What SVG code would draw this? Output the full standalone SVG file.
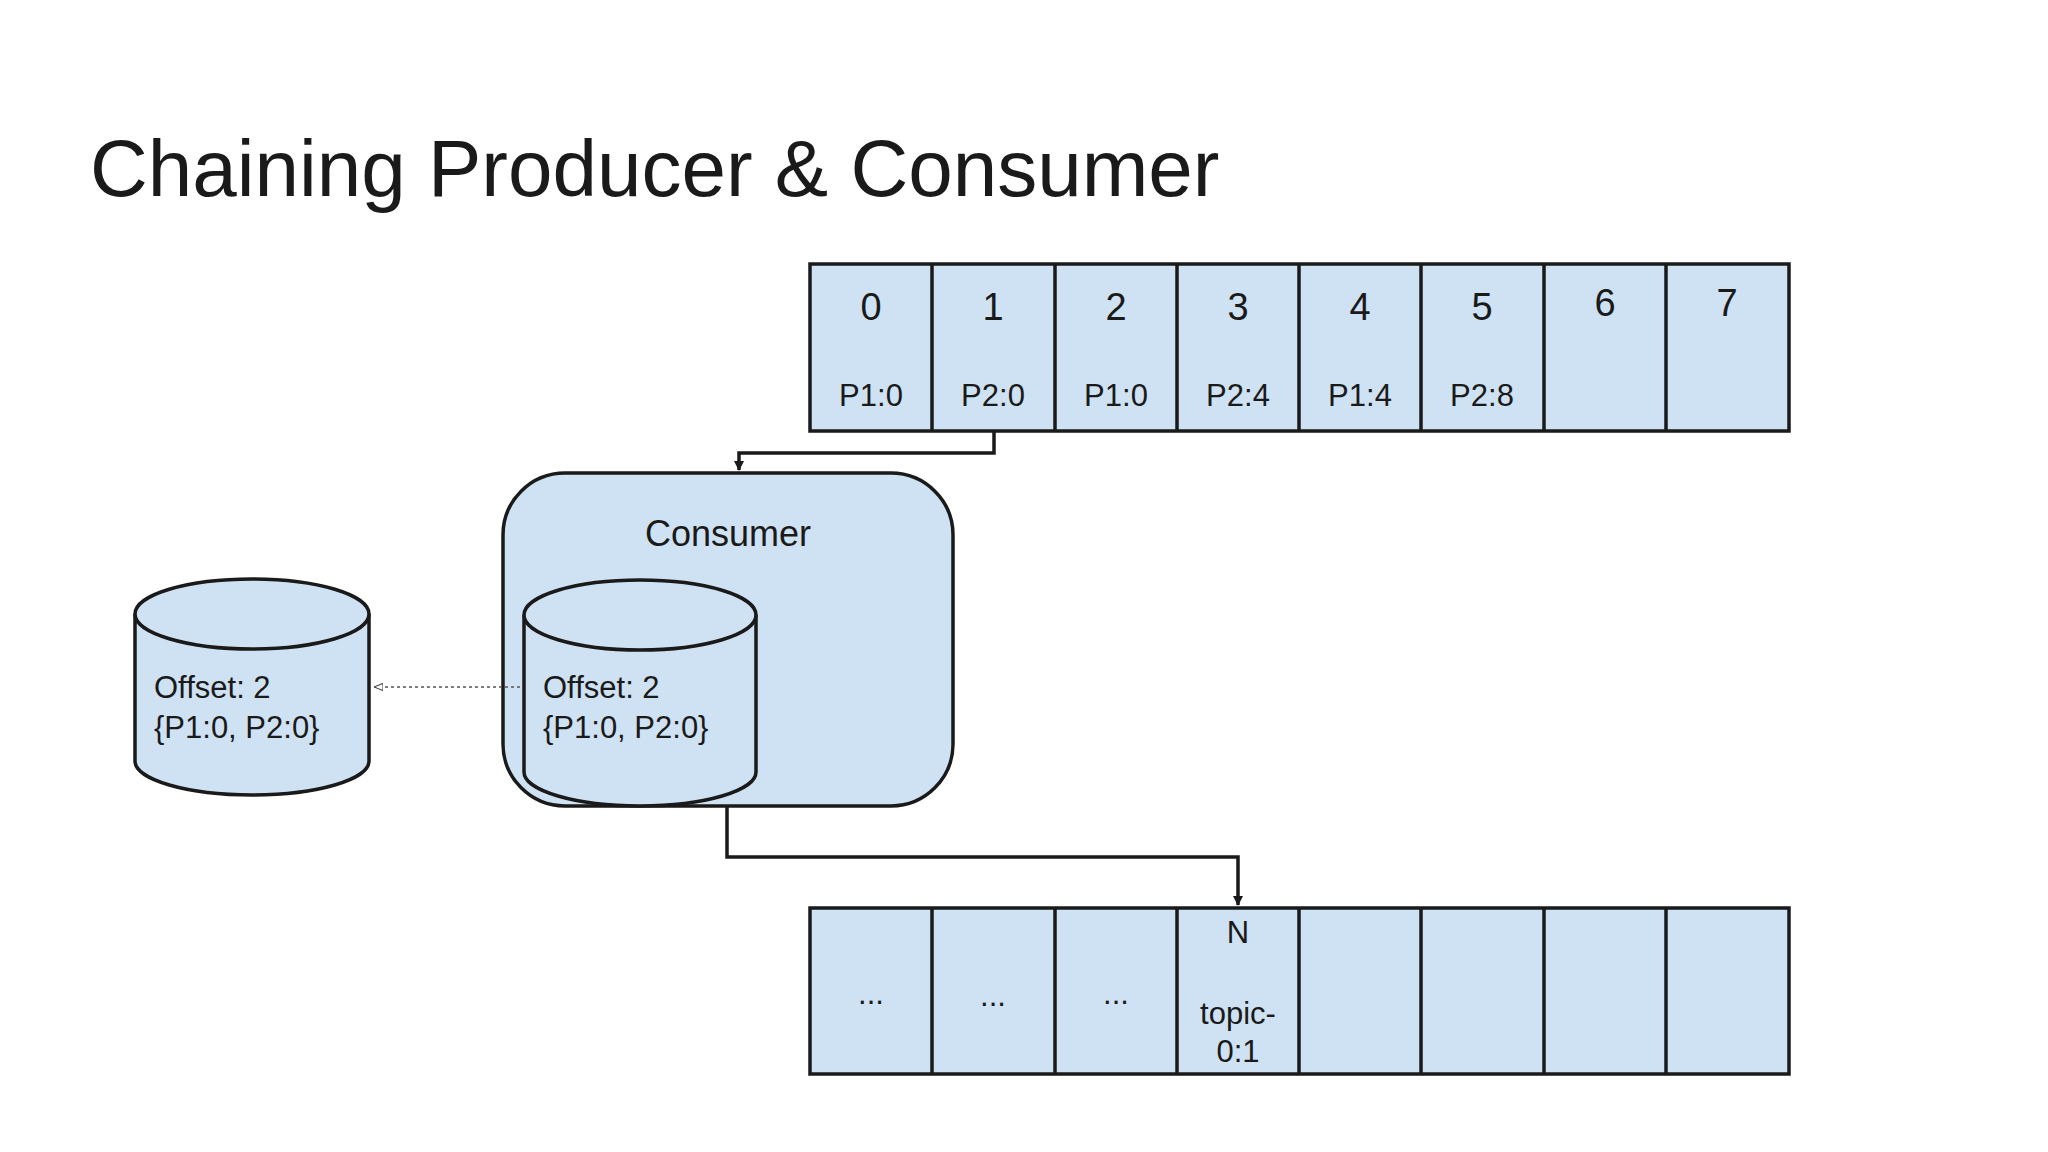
<svg xmlns="http://www.w3.org/2000/svg" width="2048" height="1152" viewBox="0 0 2048 1152">
<style>
text{font-family:"Liberation Sans",Arial,sans-serif;fill:#1a1a1a}
.c{fill:#cfe2f3;stroke:#1a1a1a;stroke-width:3.5}
.n{font-size:38px;text-anchor:middle}
.l{font-size:31px;text-anchor:middle}
.o{font-size:31px}
.w{fill:none;stroke:#1a1a1a;stroke-width:3.5}
</style>
<defs>
<marker id="a" markerWidth="10" markerHeight="10" refX="9" refY="5" orient="auto" markerUnits="userSpaceOnUse" viewBox="0 0 10 10"><path d="M0,0 L10,5 L0,10 z" fill="#1a1a1a"/></marker>
<marker id="h" viewBox="0 0 10 10" refX="10" refY="5" markerWidth="9" markerHeight="9" orient="auto" markerUnits="userSpaceOnUse"><path d="M0,1 L10,5 L0,9 z" fill="#fff" stroke="#444" stroke-width="1.2"/></marker>
</defs>
<rect width="2048" height="1152" fill="#fff"/>
<text x="90" y="196" style="font-size:80px">Chaining Producer &amp; Consumer</text>
<g id="topArray">
<rect class="c" x="810" y="264" width="979" height="167"/>
<path class="w" d="M932,264V431M1055,264V431M1177,264V431M1299,264V431M1421,264V431M1544,264V431M1666,264V431"/>
<text class="n" x="871" y="320">0</text><text class="n" x="993" y="320">1</text><text class="n" x="1116" y="320">2</text><text class="n" x="1238" y="320">3</text><text class="n" x="1360" y="320">4</text><text class="n" x="1482" y="320">5</text><text class="n" x="1605" y="316">6</text><text class="n" x="1727" y="316">7</text>
<text class="l" x="871" y="406">P1:0</text><text class="l" x="993" y="406">P2:0</text><text class="l" x="1116" y="406">P1:0</text><text class="l" x="1238" y="406">P2:4</text><text class="l" x="1360" y="406">P1:4</text><text class="l" x="1482" y="406">P2:8</text>
</g>
<g id="consumer">
<rect class="c" x="503" y="473" width="450" height="333" rx="62"/>
<text class="n" x="728" y="546" style="font-size:36px">Consumer</text>
</g>
<g id="innerStore">
<path class="c" d="M524,615 V772 A116,34 0 0 0 756,772 V615"/>
<ellipse class="c" cx="640" cy="615" rx="116" ry="35"/>
<text class="o" x="543" y="698">Offset: 2</text>
<text class="o" x="543" y="738">{P1:0, P2:0}</text>
</g>
<g id="outerStore">
<path class="c" d="M135,614 V761 A117,34 0 0 0 369,761 V614"/>
<ellipse class="c" cx="252" cy="614" rx="117" ry="35"/>
<text class="o" x="154" y="698">Offset: 2</text>
<text class="o" x="154" y="738">{P1:0, P2:0}</text>
</g>
<g id="bottomArray">
<rect class="c" x="810" y="908" width="979" height="166"/>
<path class="w" d="M932,908V1074M1055,908V1074M1177,908V1074M1299,908V1074M1421,908V1074M1544,908V1074M1666,908V1074"/>
<text class="l" x="871" y="1004">...</text><text class="l" x="993" y="1006">...</text><text class="l" x="1116" y="1004">...</text>
<text class="l" x="1238" y="943">N</text>
<text class="l" x="1238" y="1024">topic-</text>
<text class="l" x="1238" y="1062">0:1</text>
</g>
<g id="connectors">
<path class="w" d="M994,431 V453 H739 V470" marker-end="url(#a)"/>
<path d="M520,687 H374" fill="none" stroke="#555" stroke-width="1.5" stroke-dasharray="3,3" marker-end="url(#h)"/>
<path class="w" d="M727,806 V857 H1238 V905" marker-end="url(#a)"/>
</g>
</svg>
